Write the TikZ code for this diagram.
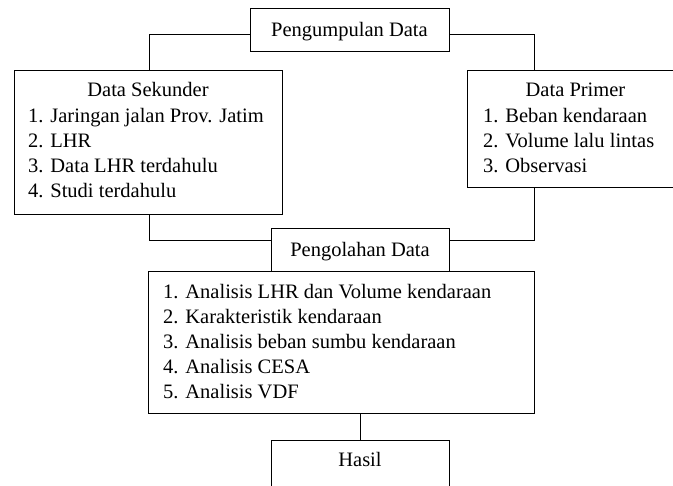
\documentclass[tikz,border=0pt]{standalone}
\usepackage{fontspec}
\setmainfont{Liberation Serif}
\begin{document}
\begin{tikzpicture}[x=1pt,y=-1pt,
  box/.style={draw,line width=1pt,rectangle,inner sep=0pt},
  txt/.style={inner sep=0pt,font=\fontsize{20.5}{25}\selectfont},
  conn/.style={line width=1pt}]
\useasboundingbox (0,0) rectangle (673,486);
% boxes
\node[box,minimum width=199pt,minimum height=43pt] (pk) at (349.5,30.5) {};
\node[box,minimum width=268pt,minimum height=144pt] (sek) at (148,143) {};
\node[box,minimum width=210pt,minimum height=117pt] (pri) at (572,129.5) {};
\node[box,minimum width=178pt,minimum height=43pt] (po) at (360,250.5) {};
\node[box,minimum width=386pt,minimum height=142pt] (an) at (341,343) {};
\node[box,minimum width=178pt,minimum height=70pt] (ha) at (360,476) {};
% texts
\node[txt,anchor=base] (tpk) at (349.5,37) {Pengumpulan Data};
\node[txt,anchor=base] (tsek) at (148,97) {Data Sekunder};
\node[txt,anchor=base west] (s1) at (28,123) {1. Jaringan jalan Prov. Jatim};
\node[txt,anchor=base west] (s2) at (28,148) {2. LHR};
\node[txt,anchor=base west] (s3) at (28,173) {3. Data LHR terdahulu};
\node[txt,anchor=base west] (s4) at (28,198) {4. Studi terdahulu};
\node[txt,anchor=base] (tpri) at (575.5,97) {Data Primer};
\node[txt,anchor=base west] (p1) at (483,123) {1. Beban kendaraan};
\node[txt,anchor=base west] (p2) at (483,148) {2. Volume lalu lintas};
\node[txt,anchor=base west] (p3) at (483,173) {3. Observasi};
\node[txt,anchor=base] (tpo) at (360,257) {Pengolahan Data};
\node[txt,anchor=base west] (a1) at (163,299) {1. Analisis LHR dan Volume kendaraan};
\node[txt,anchor=base west] (a2) at (163,324) {2. Karakteristik kendaraan};
\node[txt,anchor=base west] (a3) at (163,349) {3. Analisis beban sumbu kendaraan};
\node[txt,anchor=base west] (a4) at (163,374) {4. Analisis CESA};
\node[txt,anchor=base west] (a5) at (163,399) {5. Analisis VDF};
\node[txt,anchor=base] (tha) at (360,467) {Hasil};
% connectors
\draw[conn] ([yshift=-4.5pt]pk.west) -| ([xshift=1pt]sek.north);
\draw[conn] ([yshift=-4.5pt]pk.east) -| ([xshift=-38pt]pri.north);
\draw[conn] ([xshift=1pt]sek.south) |- ([yshift=9.5pt]po.west);
\draw[conn] ([xshift=-38pt]pri.south) |- ([yshift=9.5pt]po.east);
\draw[conn] (ha.north |- an.south) -- (ha.north);
\end{tikzpicture}
\end{document}
